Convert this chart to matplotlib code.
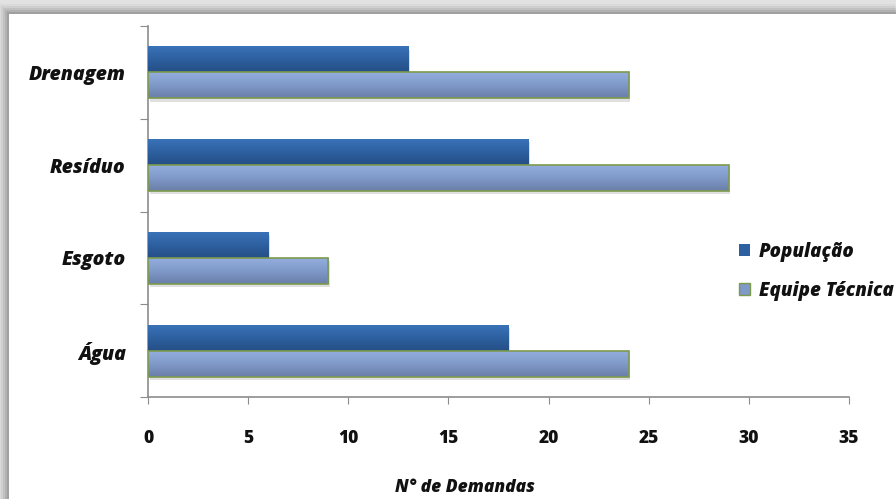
import numpy as np
import matplotlib
matplotlib.use("Agg")
import matplotlib.pyplot as plt
from matplotlib.patches import Rectangle, Patch
from matplotlib.colors import LinearSegmentedColormap

categories = ["Água", "Esgoto", "Resíduo", "Drenagem"]
populacao = [18, 6, 19, 13]
equipe = [24, 9, 29, 24]
series_names = ["População", "Equipe Técnica"]
xticks = [0, 5, 10, 15, 20, 25, 30, 35]

plt.rcParams["font.family"] = ["Open Sans", "DejaVu Sans"]
W = 800

fig = plt.figure(figsize=(8.96, 4.99), dpi=100)
fig.patch.set_facecolor("#e2e2e2")

# card with a soft shadow
for i, a in enumerate([0.06, 0.09, 0.13, 0.18, 0.24]):
    off = (5 - i) * 2
    fig.patches.append(Rectangle(((9 - off) / 896, 0), 1, (485 + off) / 499,
                                 transform=fig.transFigure, facecolor="#6a6a6a",
                                 alpha=a, edgecolor="none", zorder=0))
fig.patches.append(Rectangle((9 / 896, 0), 1, 485 / 499, transform=fig.transFigure,
                             facecolor="white", edgecolor="none", zorder=1))

ax = fig.add_axes([148 / 896, 102 / 499, 701 / 896, 371 / 499])
ax.set_facecolor("none")
ax.set_zorder(2)

h = 0.28
y = np.arange(len(categories))

dark = LinearSegmentedColormap.from_list("d", ["#3a72b8", "#2d60a0", "#254f86"])
light = LinearSegmentedColormap.from_list("l", ["#93aede", "#7f99c8", "#6a7fa8"])
grad = np.linspace(0, 1, 64).reshape(-1, 1)


def grad_bar(x0, width, yc, height, cmap, edge):
    # drop shadow
    sh = Rectangle((x0 + 0.08, yc - height / 2 - 0.035), width, height,
                   facecolor="#000000", alpha=0.12, edgecolor="none", zorder=2)
    ax.add_patch(sh)
    rect = Rectangle((x0, yc - height / 2), width, height, facecolor="none",
                     edgecolor=edge, linewidth=1.2 if edge != "none" else 0, zorder=4)
    ax.add_patch(rect)
    im = ax.imshow(grad, cmap=cmap, aspect="auto", origin="upper",
                   extent=(x0, x0 + width, yc - height / 2, yc + height / 2),
                   zorder=3, interpolation="bilinear")
    im.set_clip_path(rect)


for i in range(len(categories)):
    grad_bar(0, populacao[i], y[i] + h / 2, h, dark, "none")
    grad_bar(0, equipe[i], y[i] - h / 2, h, light, "#7c9a4c")

ax.set_xlim(0, 35)
ax.set_ylim(-0.5, len(categories) - 0.5)

for s in ["top", "right"]:
    ax.spines[s].set_visible(False)
for s in ["left", "bottom"]:
    ax.spines[s].set_color("#8c8c8c")
    ax.spines[s].set_linewidth(1.2)

ax.set_xticks(xticks)
ax.set_xticklabels([str(t) for t in xticks], fontsize=12.5, fontweight=W)
ax.tick_params(axis="x", direction="out", length=5, color="#8c8c8c", pad=19, labelcolor="#111111")

ax.set_yticks(np.arange(-0.5, len(categories), 1.0))
ax.set_yticklabels([])
ax.tick_params(axis="y", direction="out", length=6, color="#8c8c8c")
ax.set_yticks(y, minor=True)
ax.set_yticklabels(categories, minor=True, fontsize=14, fontweight=W, fontstyle="italic")
ax.tick_params(axis="y", which="minor", length=0, pad=16, labelcolor="#111111")

ax.set_xlabel("N° de Demandas", fontsize=12.5, fontweight=W, fontstyle="italic",
              color="#111111", va="center")
ax.xaxis.set_label_coords(0.452, -0.243)

# legend
handles = [Patch(facecolor="#2d60a0", edgecolor="none"),
           Patch(facecolor="#7f99c8", edgecolor="#7c9a4c")]
leg = fig.legend(handles, series_names, loc="upper left",
                 bbox_to_anchor=(722 / 896, 274 / 499), frameon=False,
                 prop=dict(size=13.5, weight=W, style="italic"),
                 handlelength=0.6, handleheight=0.6, handletextpad=0.45,
                 labelspacing=1.0)
for t in leg.get_texts():
    t.set_color("#111111")

fig.savefig("out.png", dpi=100, facecolor=fig.get_facecolor())
